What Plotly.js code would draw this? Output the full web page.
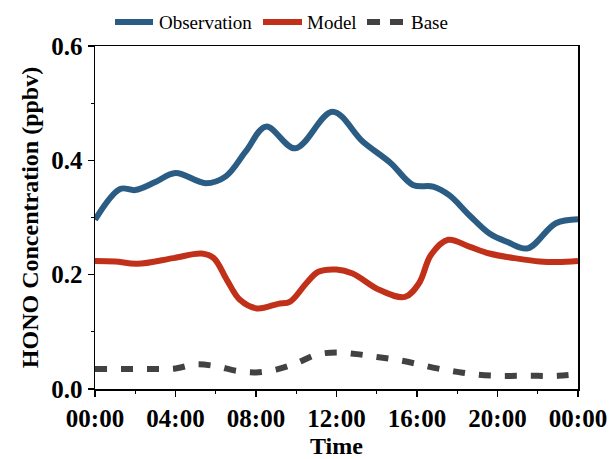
<!DOCTYPE html>
<html>
<head>
<meta charset="utf-8">
<script src="https://cdn.plot.ly/plotly-3.0.1.min.js"></script>
<style>
  html, body { margin: 0; padding: 0; background: #fff; }
  #chart { width: 610px; height: 459px; }
</style>
</head>
<body>
<div id="chart"></div>
<script>
// Diurnal HONO profile (time in hours of the day, 0..24)
const obsHours = [0, 1.25, 2, 3, 4, 5.5, 6.5, 7.5, 8.5, 9.95, 11.8, 13.3, 14.7, 15.8, 16.8, 17.6, 18.6, 19.6, 20.5, 21.5, 22.9, 24];
const observation = [0.296, 0.350, 0.348, 0.362, 0.378, 0.360, 0.372, 0.416, 0.459, 0.421, 0.485, 0.433, 0.395, 0.357, 0.354, 0.339, 0.304, 0.272, 0.257, 0.246, 0.290, 0.297];

const modelHours = [0, 1, 2.1, 3.9, 5.3, 5.9, 6.55, 7.2, 8.05, 9.1, 9.7, 10.5, 11.1, 12, 12.8, 14.15, 15.4, 16.1, 16.7, 17.55, 18.6, 19.6, 21, 22.1, 23, 24];
const model = [0.224, 0.223, 0.219, 0.229, 0.237, 0.229, 0.191, 0.156, 0.141, 0.149, 0.153, 0.185, 0.205, 0.209, 0.202, 0.173, 0.161, 0.185, 0.235, 0.261, 0.249, 0.237, 0.228, 0.223, 0.222, 0.224];

const baseHours = [0, 1, 2, 3, 4, 5, 6, 7, 8, 9, 10, 11, 12, 13, 14, 15, 16, 17, 18, 19, 20, 21, 22, 23, 24];
const base = [0.035, 0.035, 0.035, 0.035, 0.036, 0.043, 0.040, 0.032, 0.029, 0.034, 0.045, 0.060, 0.064, 0.061, 0.056, 0.051, 0.044, 0.036, 0.030, 0.025, 0.023, 0.023, 0.023, 0.023, 0.026];

const seriesNames = ["Observation", "Model", "Base"];

const timeTickVals = [0, 4, 8, 12, 16, 20, 24];
const timeTickText = ["00:00", "04:00", "08:00", "12:00", "16:00", "20:00", "00:00"];
const concTickVals = [0, 0.2, 0.4, 0.6];

const serif = "Liberation Serif, Times New Roman, serif";
const colors = ["#2B5C84", "#C1311A", "#424242"];
const dashes = ["solid", "solid", "12px,14px"];
const lineWidth = 6;

const margin = { l: 95, r: 32, t: 46, b: 70 };
const plotW = 610 - margin.l - margin.r;
const plotH = 459 - margin.t - margin.b;
// pixel position -> paper fraction, for the legend row above the frame
const px = v => (v - margin.l) / plotW;
const py = v => (459 - margin.b - v) / plotH;

const xs = [obsHours, modelHours, baseHours];
const traces = [observation, model, base].map((vals, i) => ({
  x: xs[i], y: vals, name: seriesNames[i], mode: "lines", showlegend: false,
  line: { color: colors[i], width: lineWidth, shape: "spline", smoothing: 1, dash: dashes[i] }
}));

// Legend row: sample line + label for each series
const legendRow = [
  { x0: 115, x1: 153, tx: 157, dash: "solid" },
  { x0: 263, x1: 302, tx: 305, dash: "solid" },
  { x0: 367, x1: 403, tx: 409, dash: "13px,10px" }
];
const legendY = 22;
const shapes = legendRow.map((it, i) => ({
  type: "line", xref: "paper", yref: "paper",
  x0: px(it.x0), x1: px(it.x1), y0: py(legendY), y1: py(legendY),
  line: { color: colors[i], width: lineWidth, dash: it.dash }
}));
const annotations = legendRow.map((it, i) => ({
  text: seriesNames[i], xref: "paper", yref: "paper",
  x: px(it.tx), y: py(legendY + 1), xanchor: "left", yanchor: "middle",
  showarrow: false, font: { family: serif, size: 19, color: "#000" }
}));

const layout = {
  width: 610, height: 459,
  margin: margin,
  paper_bgcolor: "#fff", plot_bgcolor: "#fff",
  font: { family: serif, color: "#000" },
  showlegend: false,
  shapes: shapes,
  annotations: annotations,
  xaxis: {
    range: [0, 24],
    tickvals: timeTickVals, ticktext: timeTickText,
    ticks: "outside", ticklen: 6, tickwidth: 1.5, tickcolor: "#000",
    minor: { dtick: 2, tick0: 0, ticks: "outside", ticklen: 3, tickwidth: 1.2, tickcolor: "#000" },
    showline: true, linecolor: "#000", linewidth: 1.5, mirror: true,
    showgrid: false, zeroline: false,
    tickfont: { family: serif, size: 25, color: "#000", weight: "bold" },
    title: { text: "<b>Time</b>", font: { family: serif, size: 24, color: "#000" }, standoff: 8 }
  },
  yaxis: {
    range: [0, 0.6],
    tickvals: concTickVals, tickformat: ".1f",
    ticks: "outside", ticklen: 6, tickwidth: 1.5, tickcolor: "#000",
    minor: { dtick: 0.1, tick0: 0, ticks: "outside", ticklen: 3, tickwidth: 1.2, tickcolor: "#000" },
    showline: true, linecolor: "#000", linewidth: 1.5, mirror: true,
    showgrid: false, zeroline: false,
    tickfont: { family: serif, size: 25, color: "#000", weight: "bold" },
    title: { text: "<b>HONO Concentration (ppbv)</b>", font: { family: serif, size: 24, color: "#000" }, standoff: 6 }
  }
};

Plotly.newPlot("chart", traces, layout, { displayModeBar: false, staticPlot: true });
</script>
</body>
</html>
